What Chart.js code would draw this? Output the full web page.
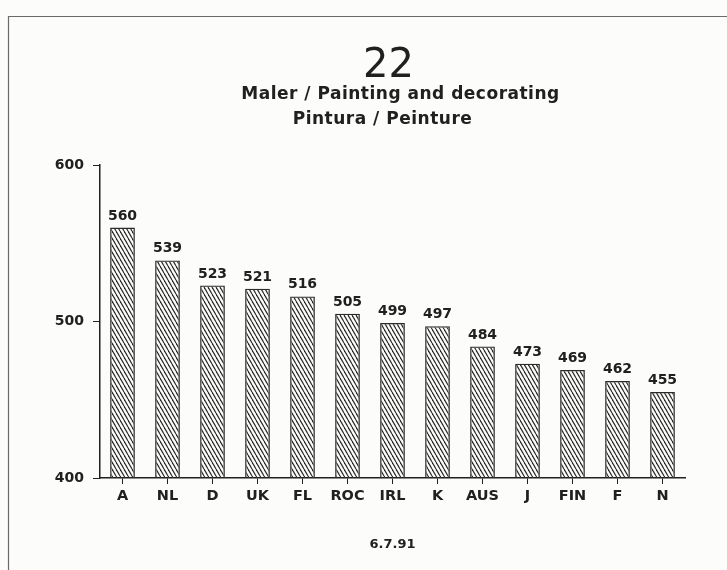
<!DOCTYPE html>
<html>
<head>
<meta charset="utf-8">
<script src="https://cdn.jsdelivr.net/npm/chart.js@4"></script>
<style>
  html, body { margin: 0; padding: 0; background: #fcfcfa; }
  #wrap { width: 727px; height: 570px; position: relative; }
</style>
</head>
<body>
<div id="wrap"><canvas id="chart" width="727" height="570"></canvas></div>
<script>
// data
const countries = ["A", "NL", "D", "UK", "FL", "ROC", "IRL", "K", "AUS", "J", "FIN", "F", "N"];
const values = [560, 539, 523, 521, 516, 505, 499, 497, 484, 473, 469, 462, 455];
const yTicks = [400, 500, 600];
const chartTitle = "22";
const chartSubtitle = ["Maler / Painting and decorating", "Pintura / Peinture"];
const dateNote = "6.7.91";

const ink = "#202020";
const font = "'DejaVu Sans', Verdana, sans-serif";

// backslash hatching for the bars
function makeHatch() {
  const c = document.createElement("canvas");
  c.width = 4;
  c.height = 7;
  const g = c.getContext("2d");
  g.strokeStyle = "#2a2a2a";
  g.lineWidth = 1.2;
  for (const x0 of [-4, 0, 4]) {
    g.beginPath();
    g.moveTo(x0, 0);
    g.lineTo(x0 + 4, 7);
    g.stroke();
  }
  return g.createPattern(c, "repeat");
}

// sheet edge, titles above the plot
const headerPlugin = {
  id: "header",
  beforeDraw(chart) {
    const ctx = chart.ctx;
    const cx = (chart.chartArea.left + chart.chartArea.right) / 2 - 4;
    ctx.save();
    ctx.strokeStyle = "#6a6a6a";
    ctx.lineWidth = 1.2;
    ctx.beginPath();
    ctx.moveTo(727, 16.5);
    ctx.lineTo(8.5, 16.5);
    ctx.lineTo(8.5, 570);
    ctx.stroke();

    ctx.fillStyle = ink;
    ctx.textAlign = "center";
    ctx.textBaseline = "alphabetic";
    ctx.font = "40px " + font;
    ctx.fillText(chartTitle, cx, 77);
    ctx.font = "bold 17px " + font;
    ctx.letterSpacing = "0.5px";
    ctx.fillText(chartSubtitle[0], cx + 12, 99);
    ctx.fillText(chartSubtitle[1], cx - 6, 124);
    ctx.letterSpacing = "0px";
    ctx.restore();
  },
};

// value above each bar
const valueLabels = {
  id: "valueLabels",
  afterDatasetsDraw(chart) {
    const ctx = chart.ctx;
    const meta = chart.getDatasetMeta(0);
    ctx.save();
    ctx.fillStyle = ink;
    ctx.font = "bold 14px " + font;
    ctx.textAlign = "center";
    ctx.textBaseline = "alphabetic";
    meta.data.forEach((bar, i) => {
      ctx.fillText(String(values[i]), bar.x, bar.y - 8);
    });
    ctx.restore();
  },
};

new Chart(document.getElementById("chart"), {
  type: "bar",
  data: {
    labels: countries,
    datasets: [
      {
        data: values,
        backgroundColor: makeHatch(),
        borderColor: "#2a2a2a",
        borderWidth: 1.3,
        categoryPercentage: 1,
        barPercentage: 0.55,
      },
    ],
  },
  options: {
    responsive: false,
    animation: false,
    layout: { padding: { left: 50, right: 42, top: 165, bottom: 18 } },
    plugins: {
      legend: { display: false },
      tooltip: { enabled: false },
      title: { display: false },
    },
    scales: {
      x: {
        grid: {
          offset: false,
          drawOnChartArea: false,
          drawTicks: true,
          tickLength: 6,
          color: ink,
        },
        border: { display: true, color: ink, width: 1.5 },
        ticks: {
          color: ink,
          font: { family: font, size: 14.5, weight: "bold" },
          padding: 4,
          maxRotation: 0,
          autoSkip: false,
        },
        title: {
          display: true,
          text: dateNote,
          color: ink,
          font: { family: font, size: 13, weight: "bold" },
          padding: { top: 27, bottom: 0 },
        },
      },
      y: {
        min: yTicks[0],
        max: yTicks[yTicks.length - 1],
        afterBuildTicks(scale) {
          scale.ticks = yTicks.map((v) => ({ value: v }));
        },
        afterFit(scale) {
          scale.width = 50;
        },
        grid: {
          drawOnChartArea: false,
          drawTicks: true,
          tickLength: 7,
          color: ink,
        },
        border: { display: true, color: ink, width: 1.5 },
        ticks: {
          color: ink,
          font: { family: font, size: 14, weight: "bold" },
          padding: 9,
        },
      },
    },
  },
  plugins: [headerPlugin, valueLabels],
});
</script>
</body>
</html>
